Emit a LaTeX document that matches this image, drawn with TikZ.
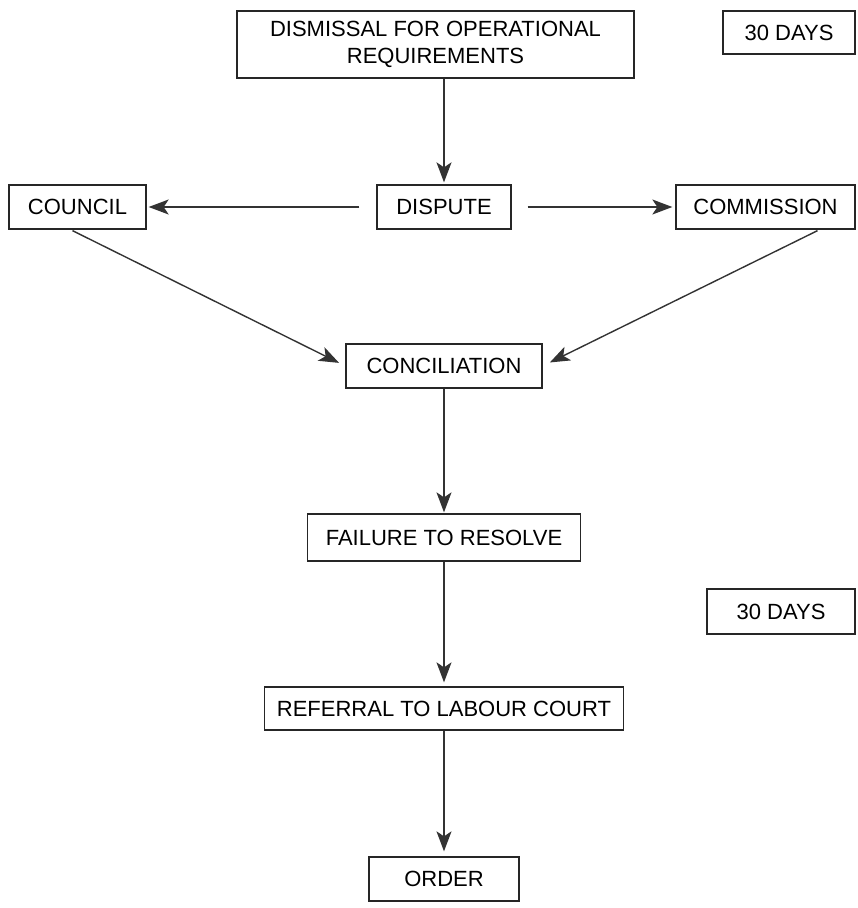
\documentclass[tikz,border=0pt]{standalone}
\usepackage{fontspec}
\setmainfont{Liberation Sans}
\usetikzlibrary{arrows.meta}
\begin{document}
\begin{tikzpicture}[x=1pt,y=-1pt,
  box/.style={draw=black!85,line width=1.3pt,inner sep=0pt,font=\fontsize{22}{27}\selectfont,align=center},
  arr/.style={draw=black!80,line width=1.4pt,-{Stealth[length=20pt,width=15pt,inset=5pt]}}]
\useasboundingbox (0,0) rectangle (858,908);
\node[box,minimum width=397pt,minimum height=67pt] (dis) at (435.5,44.5) {DISMISSAL FOR OPERATIONAL\\REQUIREMENTS};
\node[box,minimum width=132pt,minimum height=43pt] (d30a) at (789,32.5) {30 DAYS};
\node[box,minimum width=134pt,minimum height=44pt] (disp) at (444,207) {DISPUTE};
\node[box,minimum width=137pt,minimum height=44pt] (coun) at (77.5,207) {COUNCIL};
\node[box,minimum width=179pt,minimum height=44pt] (comm) at (765.5,207) {COMMISSION};
\node[box,minimum width=196pt,minimum height=44pt] (conc) at (444,366) {CONCILIATION};
\node[box,minimum width=273pt,minimum height=47pt] (fail) at (444,537.5) {FAILURE TO RESOLVE};
\node[box,minimum width=148pt,minimum height=45pt] (d30b) at (781,611.5) {30 DAYS};
\node[box,minimum width=359pt,minimum height=43pt] (ref) at (444,708.5) {REFERRAL TO LABOUR COURT};
\node[box,minimum width=150pt,minimum height=44pt] (ord) at (444,879) {ORDER};
\draw[arr,shorten >=2pt] (dis.south -| disp.north) -- (disp.north);
\draw[arr,shorten <=17pt,shorten >=2pt] (disp.west) -- (coun.east);
\draw[arr,shorten <=16pt,shorten >=3pt] (disp.east) -- (comm.west);
\draw[arr,shorten >=7pt] (coun.south) ++(-5,1) coordinate (c1) (c1) -- (conc.west);
\draw[arr,shorten >=8pt] (comm.south) ++(52,1) coordinate (c2) (c2) -- (conc.east);
\draw[arr,shorten >=1pt] (conc.south) -- (fail.north);
\draw[arr,shorten >=4pt] (fail.south) -- (ref.north);
\draw[arr,shorten >=5pt] (ref.south) -- (ord.north);
\end{tikzpicture}
\end{document}
